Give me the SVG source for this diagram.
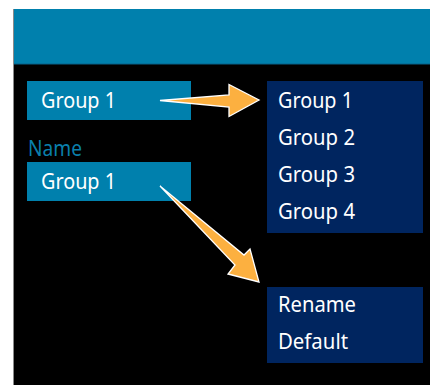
<svg xmlns="http://www.w3.org/2000/svg" width="430" height="385" viewBox="0 0 430 385">
<style>
.t{font-family:"Noto Sans","Open Sans",sans-serif;font-size:22px;fill:#ffffff}
.lbl{font-family:"Noto Sans","Open Sans",sans-serif;font-size:22px;fill:#0a7fab}
.teal{fill:#0080ad}
.navy{fill:#00255f}
.arrow{fill:#fcb040;stroke:#ffffff;stroke-width:1.3;stroke-linejoin:miter}
</style>
<rect x="0" y="0" width="430" height="385" fill="#ffffff"/>
<rect id="panel" x="13" y="9" width="417" height="376" fill="#000000"/>
<rect id="header" x="13" y="9" width="417" height="55" fill="#0080ad"/>
<line x1="13" y1="64" x2="430" y2="64" stroke="#06638a" stroke-width="1"/>
<line x1="13.5" y1="9" x2="13.5" y2="385" stroke="#8a8a8a" stroke-width="1"/>
<g id="field1">
<rect class="teal" x="27" y="81" width="164" height="39"/>
<text class="t" x="41" y="108" textLength="75" lengthAdjust="spacingAndGlyphs">Group 1</text>
</g>
<g id="nameLabel">
<text class="lbl" x="28" y="156" textLength="54" lengthAdjust="spacingAndGlyphs">Name</text>
</g>
<g id="field2">
<rect class="teal" x="27" y="162" width="164" height="39"/>
<text class="t" x="41" y="189" textLength="75" lengthAdjust="spacingAndGlyphs">Group 1</text>
</g>
<g id="groupList">
<rect class="navy" x="267" y="81" width="156" height="152"/>
<text class="t" x="278" y="108" textLength="75" lengthAdjust="spacingAndGlyphs">Group 1</text>
<text class="t" x="278" y="145" textLength="77" lengthAdjust="spacingAndGlyphs">Group 2</text>
<text class="t" x="278" y="182" textLength="77" lengthAdjust="spacingAndGlyphs">Group 3</text>
<text class="t" x="278" y="219" textLength="77" lengthAdjust="spacingAndGlyphs">Group 4</text>
</g>
<g id="menu">
<rect class="navy" x="267" y="287" width="156" height="76"/>
<text class="t" x="278" y="312" textLength="78" lengthAdjust="spacingAndGlyphs">Rename</text>
<text class="t" x="278" y="349" textLength="70" lengthAdjust="spacingAndGlyphs">Default</text>
</g>
<g id="connectors">
<path class="arrow" d="M160,100.5 L229,95 L229,84.5 L259,100 L229,116.5 L229,107 Z"/>
<path class="arrow" d="M160,186 L244,255 L250,249 L259,282 L228,274 L235,265 Z"/>
</g>
</svg>
